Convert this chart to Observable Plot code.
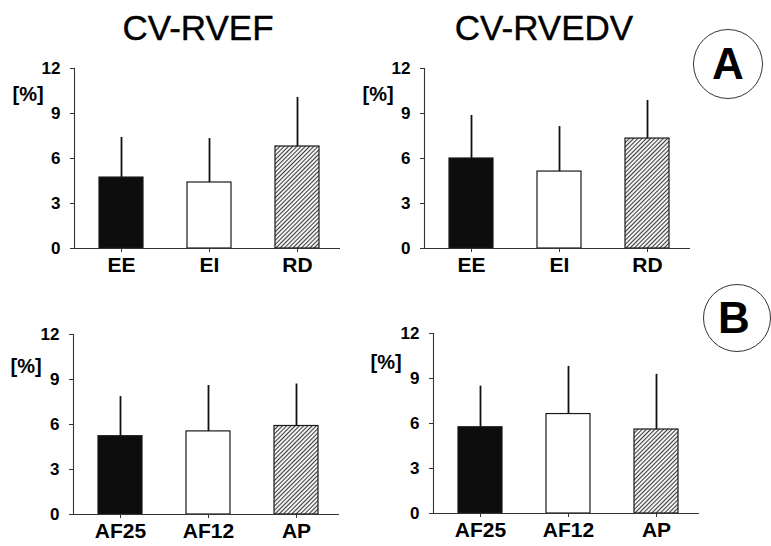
<!DOCTYPE html>
<html>
<head>
<meta charset="utf-8">
<script src="https://cdn.jsdelivr.net/npm/d3@7"></script>
<script src="https://cdn.jsdelivr.net/npm/@observablehq/plot@0.6"></script>
<style>
  html, body { margin: 0; padding: 0; background: #fff; }
  #fig { position: relative; width: 771px; height: 546px; overflow: hidden; font-family: "Liberation Sans", Arial, Helvetica, sans-serif; color: #000; }
  .panel { position: absolute; }
  .title { position: absolute; font-size: 35px; line-height: 1; transform: translateX(-50%); white-space: nowrap; -webkit-text-stroke: 0.4px #000; }
  .circ { position: absolute; box-sizing: border-box; border: 1.3px solid #333; border-radius: 50%;
          display: flex; align-items: center; justify-content: center; font-size: 44px; font-weight: bold; line-height: 1; }
</style>
</head>
<body>
<svg width="0" height="0" style="position:absolute">
  <defs>
    <pattern id="hatch" patternUnits="userSpaceOnUse" width="3" height="3" patternTransform="rotate(45)">
      <rect width="3" height="3" fill="#f2f2f2"></rect>
      <line x1="0.5" y1="0" x2="0.5" y2="3" stroke="#3a3a3a" stroke-width="1"></line>
    </pattern>
  </defs>
</svg>
<div id="fig">
  <div class="title" style="left:198px; top:10px;">CV-RVEF</div>
  <div class="title" style="left:544px; top:10px;">CV-RVEDV</div>
  <div class="circ" style="left:693px; top:29px; width:70px; height:70px;">A</div>
  <div class="circ" style="left:703px; top:284px; width:68px; height:68px; padding-right:6px;">B</div>
</div>
<script>
// ---- data ----
const catsA = ["EE", "EI", "RD"];
const catsB = ["AF25", "AF12", "AP"];
const yTicks = [0, 3, 6, 9, 12];

// Panel A, CV-RVEF (mean, SD in %)
const rvefA_mean = [4.73, 4.4, 6.8];
const rvefA_sd   = [2.67, 2.93, 3.27];
// Panel A, CV-RVEDV
const rvedvA_mean = [6.0, 5.13, 7.33];
const rvedvA_sd   = [2.87, 3.0, 2.54];
// Panel B, CV-RVEF
const rvefB_mean = [5.22, 5.54, 5.9];
const rvefB_sd   = [2.64, 3.06, 2.8];
// Panel B, CV-RVEDV
const rvedvB_mean = [5.75, 6.63, 5.6];
const rvedvB_sd   = [2.74, 3.18, 3.68];

const fills = ["#0d0d0d", "#ffffff", "url(#hatch)"];

function panel(cats, means, sds, pos) {
  const rows = cats.map((c, i) => ({cat: c, mean: means[i], top: means[i] + sds[i]}));
  const chart = Plot.plot({
    width: 360, height: 240,
    marginLeft: 74, marginRight: 20, marginTop: 20, marginBottom: 40,
    style: {fontFamily: '"Liberation Sans", Arial, Helvetica, sans-serif', background: "transparent", overflow: "visible", color: "#000"},
    x: {domain: cats, paddingInner: 0.5, paddingOuter: 0.245, align: 0.54, label: null},
    y: {domain: [0, 12], label: null},
    color: {domain: cats, range: fills},
    marks: [
      Plot.barY(rows, {x: "cat", y: "mean", fill: "cat", stroke: "#1a1a1a", strokeWidth: 1.2}),
      Plot.ruleX(rows, {x: "cat", y1: "mean", y2: "top", stroke: "#111", strokeWidth: 1.8}),
      Plot.ruleY([0], {stroke: "#333", strokeWidth: 1.1}),
      Plot.frame({anchor: "left", stroke: "#333", strokeWidth: 1.1}),
      Plot.axisY({ticks: yTicks, tickSize: 4, tickPadding: 10, fontSize: 17, fontWeight: "bold", stroke: "#333"}),
      Plot.axisX({tickSize: 4, tickPadding: 5, fontSize: 21, fontWeight: "bold", stroke: "#333"}),
      Plot.text(["[%]"], {frameAnchor: "top-left", dx: pos.ldx, dy: pos.ldy, textAnchor: "start", lineAnchor: "middle", fontSize: 20, fontWeight: "bold"})
    ]
  });
  chart.classList.add("panel");
  chart.style.left = pos.left + "px";
  chart.style.top = pos.top + "px";
  document.getElementById("fig").appendChild(chart);
}

panel(catsA, rvefA_mean, rvefA_sd, {left: 0, top: 48, ldx: -62, ldy: 26});
panel(catsA, rvedvA_mean, rvedvA_sd, {left: 350, top: 48, ldx: -62, ldy: 26});
panel(catsB, rvefB_mean, rvefB_sd, {left: -1, top: 314, ldx: -63, ldy: 32});
panel(catsB, rvedvB_mean, rvedvB_sd, {left: 359, top: 313, ldx: -63, ldy: 29});
</script>
</body>
</html>
